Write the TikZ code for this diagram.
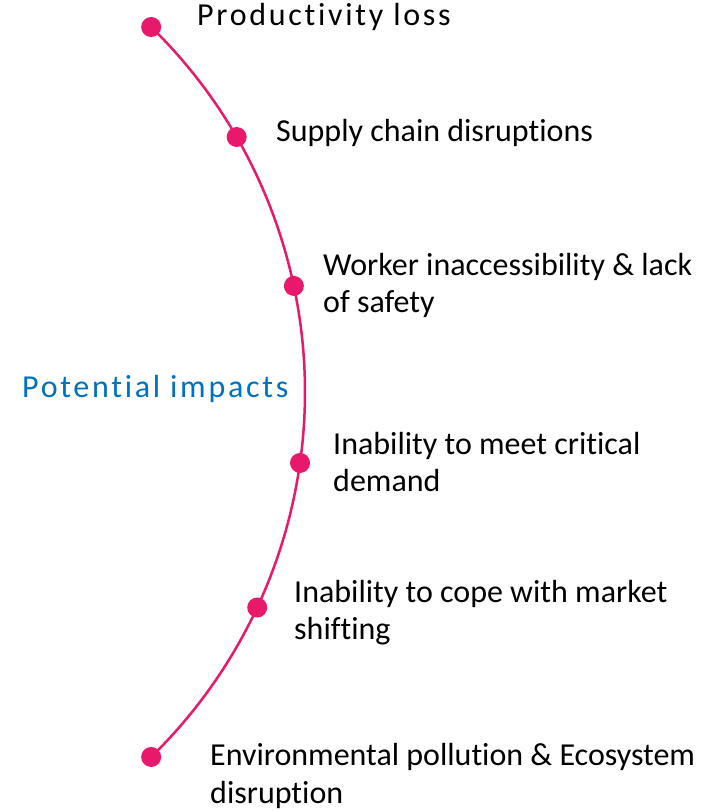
\documentclass[tikz,border=0pt]{standalone}
\usepackage{fontspec}
\setmainfont{Carlito}[Ligatures=NoCommon]
\newfontfamily\spacedfont{Carlito}[Ligatures=NoCommon, LetterSpace=8.5]
\usetikzlibrary{calc}
\definecolor{arcpink}{HTML}{E8186A}
\definecolor{titleblue}{HTML}{0070C0}
\tikzset{
  impact/.style={anchor=base west, inner sep=0pt, align=left,
    font=\fontsize{32}{37}\selectfont},
  dotmark/.style={circle, fill=arcpink, inner sep=0pt, minimum size=20pt},
}
\begin{document}
\begin{tikzpicture}[x=1pt,y=1pt]
\useasboundingbox (0,0) rectangle (702,811);
\coordinate (c) at (-205,419);

% the arc
\draw[arcpink, line width=2.5pt] (c) ++(45.7:510) arc (45.7:-45.7:510);

% dots along the arc
\node[dotmark] (d1) at ($(c)+(45.7:510)$) {};
\node[dotmark] (d2) at ($(c)+(30:510)$) {};
\node[dotmark] (d3) at ($(c)+(12:510)$) {};
\node[dotmark] (d4) at ($(c)+(-8:510)$) {};
\node[dotmark] (d5) at ($(c)+(-25:510)$) {};
\node[dotmark] (d6) at ($(c)+(-45.7:510)$) {};

% labels (base = last line)
\node[impact, font=\fontsize{32}{37}\spacedfont] (prod) at (197,785) {Productivity loss};
\node[impact] (supply) at (276,669) {Supply chain disruptions};
\node[impact] (worker) at (323,498) {Worker inaccessibility \& lack\\of safety};
\node[impact] (meet) at (333,319) {Inability to meet critical\\demand};
\node[impact] (cope) at (294,171) {Inability to cope with market\\shifting};
\node[impact] (env) at (210,8) {Environmental pollution \& Ecosystem\\disruption};
\node[impact, text=titleblue, font=\fontsize{32}{37}\spacedfont] (title) at (22,413) {Potential impacts};
\end{tikzpicture}
\end{document}
